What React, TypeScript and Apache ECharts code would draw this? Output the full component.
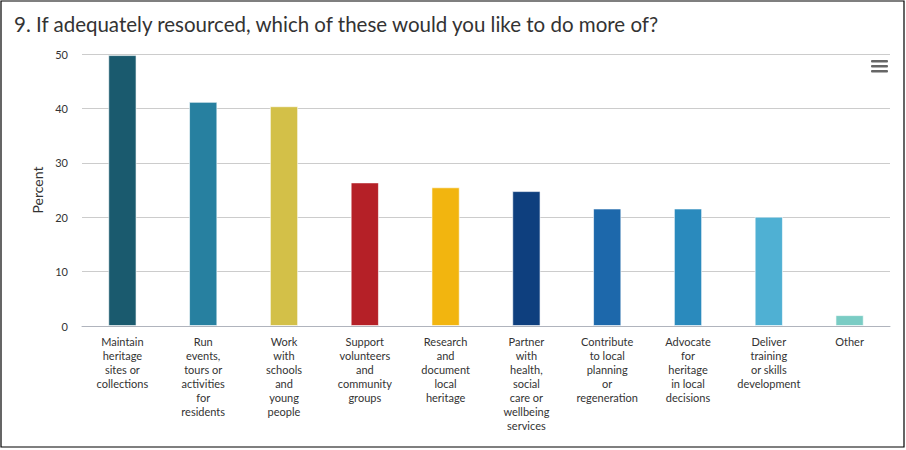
import React, { useEffect, useRef } from "react";
import * as echarts from "echarts";

const titleText = "9. If adequately resourced, which of these would you like to do more of?";
const categories = [
  "Maintain\nheritage\nsites or\ncollections",
  "Run\nevents,\ntours or\nactivities\nfor\nresidents",
  "Work\nwith\nschools\nand\nyoung\npeople",
  "Support\nvolunteers\nand\ncommunity\ngroups",
  "Research\nand\ndocument\nlocal\nheritage",
  "Partner\nwith\nhealth,\nsocial\ncare or\nwellbeing\nservices",
  "Contribute\nto local\nplanning\nor\nregeneration",
  "Advocate\nfor\nheritage\nin local\ndecisions",
  "Deliver\ntraining\nor skills\ndevelopment",
  "Other",
];
const values = [49.8, 41.2, 40.4, 26.4, 25.5, 24.8, 21.6, 21.6, 20.1, 2.0];
const colors = [
  "#1a5a6e", "#2780a0", "#d3c048", "#b52027", "#f2b50f",
  "#0e3f7e", "#1d68ab", "#2a8abd", "#4fb0d3", "#7accc4",
];
const yTicks = { min: 0, max: 50, interval: 10 };

export default function App() {
  const ref = useRef<HTMLDivElement>(null);
  useEffect(() => {
    document.body.style.margin = "0";
    const chart = echarts.init(ref.current!, null, { renderer: "svg" });
    chart.setOption({
      animation: false,
      backgroundColor: "#ffffff",
      textStyle: { fontFamily: "Lato" },
      title: {
        text: titleText,
        left: 9,
        top: 8,
        textStyle: { fontFamily: "Lato", fontSize: 20.5, fontWeight: "normal", color: "#333333" },
      },
      grid: { left: 82, right: 16, top: 54, bottom: 124, containLabel: false },
      xAxis: {
        type: "category",
        data: categories,
        axisTick: { show: false },
        axisLine: { lineStyle: { color: "#b0b4bd", width: 1 } },
        axisLabel: {
          interval: 0,
          color: "#333333",
          fontSize: 11,
          lineHeight: 14,
          margin: 8,
          fontFamily: "Lato",
        },
      },
      yAxis: {
        type: "value",
        min: yTicks.min,
        max: yTicks.max,
        interval: yTicks.interval,
        name: "Percent",
        nameLocation: "middle",
        nameGap: 38,
        nameTextStyle: { color: "#333333", fontSize: 14, fontFamily: "Lato" },
        axisLabel: { color: "#333333", fontSize: 11, margin: 14, fontFamily: "Lato" },
        splitLine: { lineStyle: { color: "#cccccc", width: 1 } },
        axisLine: { show: false },
        axisTick: { show: false },
      },
      series: [
        {
          type: "bar",
          barWidth: "35%",
          data: values.map((v, i) => ({
            value: v,
            itemStyle: { color: colors[i], borderColor: "rgba(255,255,255,0.6)", borderWidth: 1 },
          })),
        },
      ],
      graphic: [
        {
          type: "rect",
          shape: { x: 1, y: 1, width: 903, height: 446 },
          style: { fill: "none", stroke: "#000000", lineWidth: 1.2 },
          silent: true,
        },
        { type: "rect", shape: { x: 871, y: 60, width: 17, height: 2.5, r: 1 }, style: { fill: "#666666" } },
        { type: "rect", shape: { x: 871, y: 65, width: 17, height: 2.5, r: 1 }, style: { fill: "#666666" } },
        { type: "rect", shape: { x: 871, y: 70, width: 17, height: 2.5, r: 1 }, style: { fill: "#666666" } },
      ],
    });
    return () => chart.dispose();
  }, []);
  return <div ref={ref} style={{ width: 906, height: 450 }} />;
}
